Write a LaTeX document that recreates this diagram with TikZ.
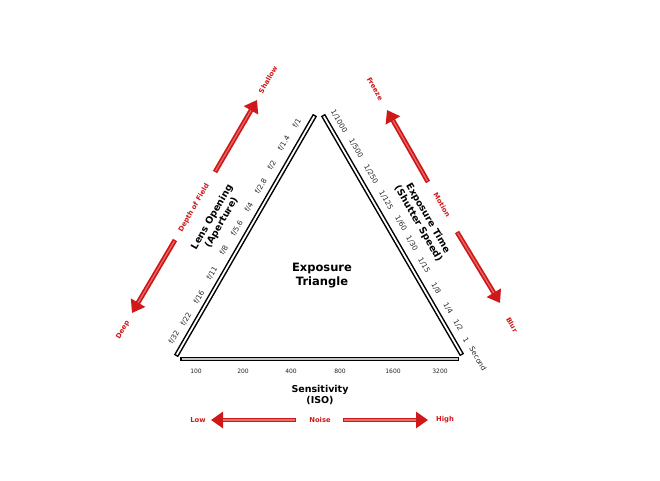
\documentclass[tikz,border=0pt]{standalone}
\usepackage{fontspec}
\setmainfont{DejaVu Sans}
\usetikzlibrary{arrows.meta}
\definecolor{arrred}{RGB}{208,24,24}
\definecolor{arrlight}{RGB}{232,110,110}
\begin{document}
\begin{tikzpicture}[x=1pt,y=-1pt,
  bar/.style={line width=4.8pt,black},
  barin/.style={line width=1.8pt,shorten <=1.5pt,shorten >=1.5pt},
  tick/.style={font=\fontsize{6}{7}\selectfont,inner sep=0pt,text=black!85},
  stick/.style={tick,font=\fontsize{7.2}{8}\selectfont},
  title/.style={font=\fontsize{9.5}{11}\selectfont\bfseries,align=center,inner sep=0pt},
  redlab/.style={font=\fontsize{6.8}{8}\selectfont\bfseries,text=arrred,inner sep=0pt},
  bigarrow/.style={arrred,line width=4.8pt,-{Triangle[width=16pt,length=12pt]}},
  arrstripe/.style={arrlight,line width=1.2pt,shorten >=12pt,shorten <=1.2pt}
]
\useasboundingbox[fill=white] (0,0) rectangle (660,480);

% triangle bars
\coordinate (LB) at (176,356);
\coordinate (LT) at (315,115);
\coordinate (RT) at (323,115);
\coordinate (RB) at (462,355);
\coordinate (BL) at (180,359);
\coordinate (BR) at (459,359);
\draw[bar] (LB) -- (LT);
\draw[barin,white] (LB) -- (LT);
\draw[bar] (RT) -- (RB);
\draw[barin,white] (RT) -- (RB);
\draw[bar] (BL) -- (BR);
\draw[barin,gray!45] (BL) -- (BR);

% center title
\node[title,font=\fontsize{11.5}{14}\selectfont\bfseries] (center) at (322,276) {Exposure\\Triangle};

% aperture side
\node[title,rotate=60] (aper) at (217,220) {Lens Opening\\(Aperture)};
\foreach \t/\x/\y [count=\i] in {{f/32}/174/337, {f/22}/186/319, {f/16}/199/297, {f/11}/212/273, {f/8}/224/250, {f/5.6}/237/228, {f/4}/249/207, {f/2.8}/261/186, {f/2}/272/165, {f/1.4}/284/143, {f/1}/297/123}
  \node[stick,rotate=60] (ap\i) at (\x,\y) {\t};

% shutter side
\node[title,rotate=-60] (shut) at (423,221) {Exposure Time\\(Shutter Speed)};
\foreach \t/\x/\y [count=\i] in {{1/1000}/339/121, {1/500}/356/148, {1/250}/371/174, {1/125}/386/200, {1/60}/401/223, {1/30}/412/243, {1/15}/424/265, {1/8}/436/288, {1/4}/448/308, {1/2}/458/325}
  \node[stick,rotate=-60] (sh\i) at (\x,\y) {\t};
\node[stick,rotate=-60] (sh11) at (466,340) {1};
\node[stick,rotate=-60] (sec) at (478,359) {Second};

% ISO side
\foreach \t/\x [count=\i] in {100/196, 200/243, 400/291, 800/340, 1600/393, 3200/440}
  \node[tick] (iso\i) at (\x,371) {\t};
\node[title] (sens) at (320,395) {Sensitivity\\(ISO)};

% depth of field arrows
\coordinate (dofa) at (215,172);
\coordinate (dofb) at (257,100);
\coordinate (dofc) at (175,240);
\coordinate (dofd) at (132,313);
\draw[bigarrow] (dofa) -- (dofb);
\draw[arrstripe] (dofa) -- (dofb);
\draw[bigarrow] (dofc) -- (dofd);
\draw[arrstripe] (dofc) -- (dofd);
\node[redlab,rotate=60] (shallow) at (268,80) {Shallow};
\node[redlab,rotate=60] (dof) at (194,208) {Depth of Field};
\node[redlab,rotate=60] (deep) at (123,330) {Deep};

% motion arrows
\coordinate (moa) at (428,182);
\coordinate (mob) at (387,110);
\coordinate (moc) at (457,232);
\coordinate (mod) at (500,303);
\draw[bigarrow] (moa) -- (mob);
\draw[arrstripe] (moa) -- (mob);
\draw[bigarrow] (moc) -- (mod);
\draw[arrstripe] (moc) -- (mod);
\node[redlab,rotate=-60] (freeze) at (375,89) {Freeze};
\node[redlab,rotate=-60] (motion) at (442,205) {Motion};
\node[redlab,rotate=-60] (blur) at (512,325) {Blur};

% noise arrows
\coordinate (noa) at (296,420);
\coordinate (nob) at (211,420);
\coordinate (noc) at (343,420);
\coordinate (nod) at (428,420);
\draw[bigarrow] (noa) -- (nob);
\draw[arrstripe] (noa) -- (nob);
\draw[bigarrow] (noc) -- (nod);
\draw[arrstripe] (noc) -- (nod);
\node[redlab] (low) at (198,420) {Low};
\node[redlab] (noise) at (320,420) {Noise};
\node[redlab] (high) at (445,420) {High};
\end{tikzpicture}
\end{document}
